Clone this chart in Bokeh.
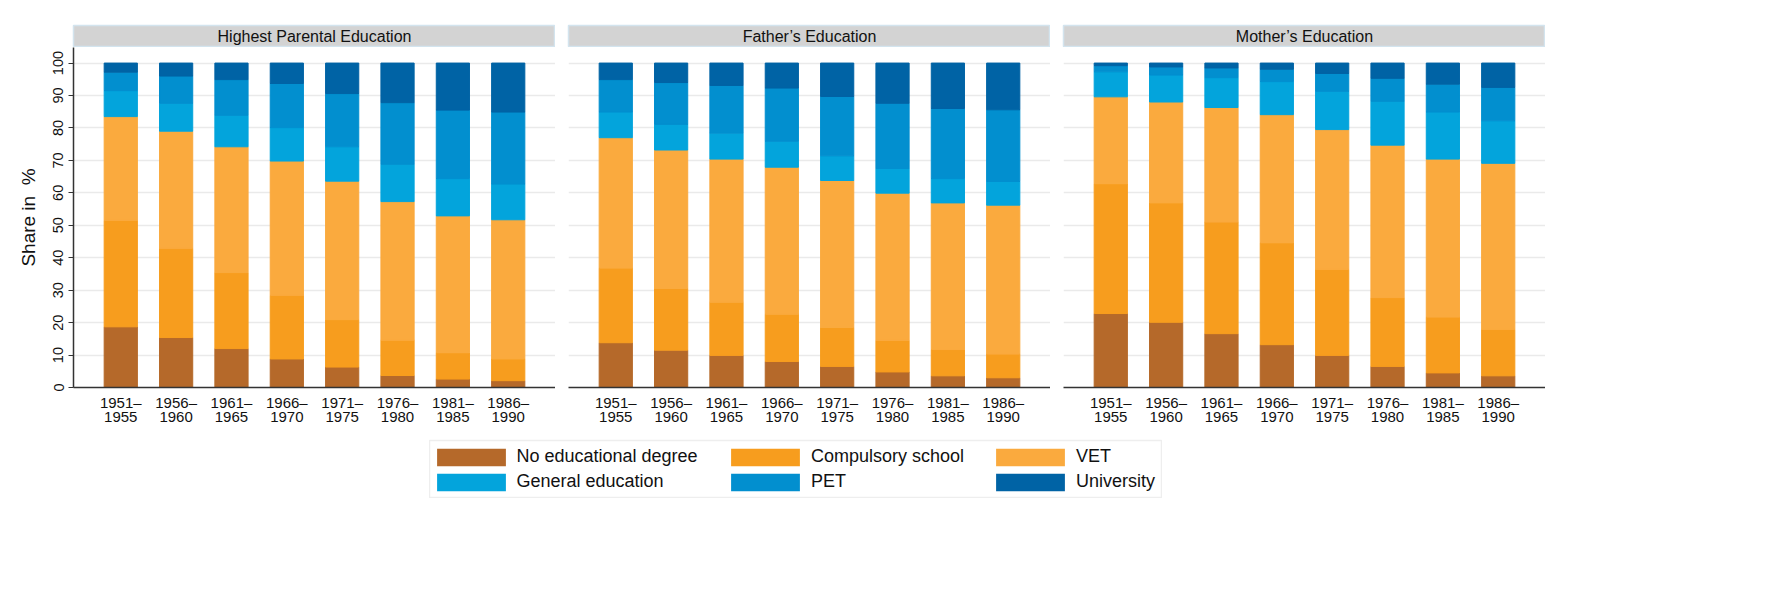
from bokeh.plotting import figure
from bokeh.models import ColumnDataSource, FactorRange, Range1d, Label, Legend, LegendItem, FixedTicker, Spacer
from bokeh.layouts import column, row
from bokeh.embed import file_html
from bokeh.resources import INLINE

FONT = "Liberation Sans"

# birth cohorts (x categories)
cohorts = ["1951–\n1955", "1956–\n1960", "1961–\n1965", "1966–\n1970",
           "1971–\n1975", "1976–\n1980", "1981–\n1985", "1986–\n1990"]

# education categories, bottom to top
cat_keys = ["none", "comp", "vet", "gen", "pet", "univ"]
cat_labels = ["No educational degree", "Compulsory school", "VET",
              "General education", "PET", "University"]
cat_colors = ["#B5692A", "#F79D1E", "#FAAA3E", "#03A4DC", "#028FCF", "#0063A5"]

panel_titles = ["Highest Parental Education", "Father’s Education", "Mother’s Education"]

# shares in %
hpe_none = [18.7, 15.4, 12.0, 8.8, 6.3, 3.7, 2.6, 2.1]
hpe_comp = [32.8, 27.5, 23.4, 19.6, 14.6, 10.9, 8.1, 6.7]
hpe_vet = [32.0, 36.1, 38.8, 41.4, 42.7, 42.7, 42.2, 42.9]
hpe_gen = [8.0, 8.6, 9.7, 10.3, 10.6, 11.5, 11.5, 11.0]
hpe_pet = [5.7, 8.4, 11.0, 13.6, 16.4, 19.0, 21.1, 22.2]
hpe_univ = [2.8, 4.0, 5.1, 6.3, 9.4, 12.2, 14.5, 15.1]

fat_none = [13.8, 11.5, 9.9, 8.0, 6.5, 4.8, 3.6, 3.0]
fat_comp = [23.0, 19.0, 16.4, 14.6, 12.0, 9.7, 8.1, 7.3]
fat_vet = [40.2, 42.7, 44.1, 45.3, 45.3, 45.4, 45.2, 45.9]
fat_gen = [7.9, 7.9, 8.0, 8.0, 7.6, 7.6, 7.5, 7.3]
fat_pet = [10.0, 12.9, 14.7, 16.4, 18.3, 20.1, 21.6, 22.1]
fat_univ = [5.1, 6.0, 6.9, 7.7, 10.3, 12.4, 14.0, 14.4]

mot_none = [22.8, 20.1, 16.6, 13.2, 9.9, 6.5, 4.5, 3.6]
mot_comp = [40.0, 36.8, 34.4, 31.4, 26.5, 21.2, 17.2, 14.3]
mot_vet = [26.8, 31.1, 35.3, 39.5, 43.1, 47.0, 48.7, 51.2]
mot_gen = [7.7, 8.3, 9.2, 10.2, 11.8, 13.5, 14.5, 13.1]
mot_pet = [1.9, 2.5, 3.0, 3.8, 5.5, 7.1, 8.6, 10.3]
mot_univ = [0.8, 1.2, 1.5, 1.9, 3.2, 4.7, 6.5, 7.5]

panels = [
    [hpe_none, hpe_comp, hpe_vet, hpe_gen, hpe_pet, hpe_univ],
    [fat_none, fat_comp, fat_vet, fat_gen, fat_pet, fat_univ],
    [mot_none, mot_comp, mot_vet, mot_gen, mot_pet, mot_univ],
]

FRAME_W = 482
ticks = list(range(0, 101, 10))


def make_source(shares):
    data = {"cohort": cohorts}
    for k, s in zip(cat_keys, shares):
        data[k] = s
    return ColumnDataSource(data)


def make_strip(title, left):
    s = figure(width=left + FRAME_W, height=47, x_range=Range1d(0, 1), y_range=Range1d(0, 1),
               x_axis_location=None, y_axis_location=None, toolbar_location=None, tools="",
               output_backend="svg", min_border_left=left, min_border_right=0,
               min_border_top=25, min_border_bottom=1)
    s.grid.visible = False
    s.background_fill_color = "#D3D3D3"
    s.outline_line_color = "#D3E4EE"
    s.outline_line_width = 1.5
    s.add_layout(Label(x=0.5, y=0.5, text=title, text_align="center", text_baseline="middle",
                       text_font=FONT, text_font_size="16px", text_color="#111111"))
    return s


def make_panel(shares, first):
    left = 73 if first else 13
    p = figure(width=left + FRAME_W, height=390,
               x_range=FactorRange(*cohorts, range_padding=0.354, range_padding_units="absolute"),
               y_range=Range1d(0, 104.8),
               y_axis_location="left" if first else None,
               toolbar_location=None, tools="", output_backend="svg",
               min_border_left=left, min_border_right=0, min_border_top=0, min_border_bottom=50)
    p.vbar_stack(cat_keys, x="cohort", width=0.6, fill_color=cat_colors, line_color=cat_colors,
                 source=make_source(shares))
    p.outline_line_color = None
    p.xgrid.grid_line_color = None
    p.ygrid.ticker = FixedTicker(ticks=ticks)
    p.ygrid.grid_line_color = "#EAEAEA"
    p.ygrid.grid_line_width = 1.5

    p.xaxis.axis_line_color = "#333333"
    p.xaxis.axis_line_width = 1.5
    p.xaxis.major_tick_line_color = None
    p.xaxis.minor_tick_line_color = None
    p.xaxis.major_label_text_font = FONT
    p.xaxis.major_label_text_font_size = "15px"
    p.xaxis.major_label_text_color = "#111111"
    p.xaxis.major_label_text_line_height = 0.88
    p.xaxis.major_label_standoff = 0

    if first:
        p.yaxis.ticker = FixedTicker(ticks=ticks)
        p.yaxis.axis_label = "Share in\u00a0 %"
        p.yaxis.axis_label_text_font = FONT
        p.yaxis.axis_label_text_font_size = "19px"
        p.yaxis.axis_label_text_font_style = "normal"
        p.yaxis.axis_label_text_color = "#111111"
        p.yaxis.axis_label_standoff = 12
        p.yaxis.major_label_orientation = "vertical"
        p.yaxis.major_label_text_font = FONT
        p.yaxis.major_label_text_font_size = "14.5px"
        p.yaxis.major_label_text_color = "#111111"
        p.yaxis.major_label_standoff = 5
        p.yaxis.major_tick_out = 5
        p.yaxis.major_tick_in = 0
        p.yaxis.minor_tick_line_color = None
        p.yaxis.axis_line_color = "#333333"
        p.yaxis.axis_line_width = 1.5
        p.yaxis.major_tick_line_color = "#333333"
    return p


cols = []
for i, (title, shares) in enumerate(zip(panel_titles, panels)):
    left = 73 if i == 0 else 13
    cols.append(column(make_strip(title, left), make_panel(shares, i == 0)))

# legend box: zero-width bars here only supply the legend swatches
leg = figure(width=733, height=61, x_range=FactorRange(*cohorts), y_range=Range1d(0, 100),
             x_axis_location=None, y_axis_location=None, toolbar_location=None, tools="",
             output_backend="svg", min_border_left=0, min_border_right=0,
             min_border_top=3, min_border_bottom=0)
leg.grid.visible = False
leg.outline_line_color = "#EEEEEE"
leg.outline_line_width = 1.5
rs = leg.vbar_stack(cat_keys, x="cohort", width=0, fill_color=cat_colors, line_color=None,
                    source=make_source(panels[0]))

col_x = [-1.5, 293, 558]
for c in range(3):
    items = [LegendItem(label=cat_labels[c], renderers=[rs[c]]),
             LegendItem(label=cat_labels[c + 3], renderers=[rs[c + 3]])]
    lg = Legend(items=items, location=(col_x[c], 5.3), orientation="vertical",
                glyph_width=86, glyph_height=22, label_height=22, label_standoff=3,
                spacing=3, padding=0, margin=0, border_line_color=None,
                background_fill_alpha=0, label_text_font=FONT, label_text_font_size="18px",
                label_text_color="#111111")
    leg.add_layout(lg, "center")

layout = column(row(*cols), row(Spacer(width=429, height=61), leg))

open("out.html", "w").write(file_html(layout, INLINE))
